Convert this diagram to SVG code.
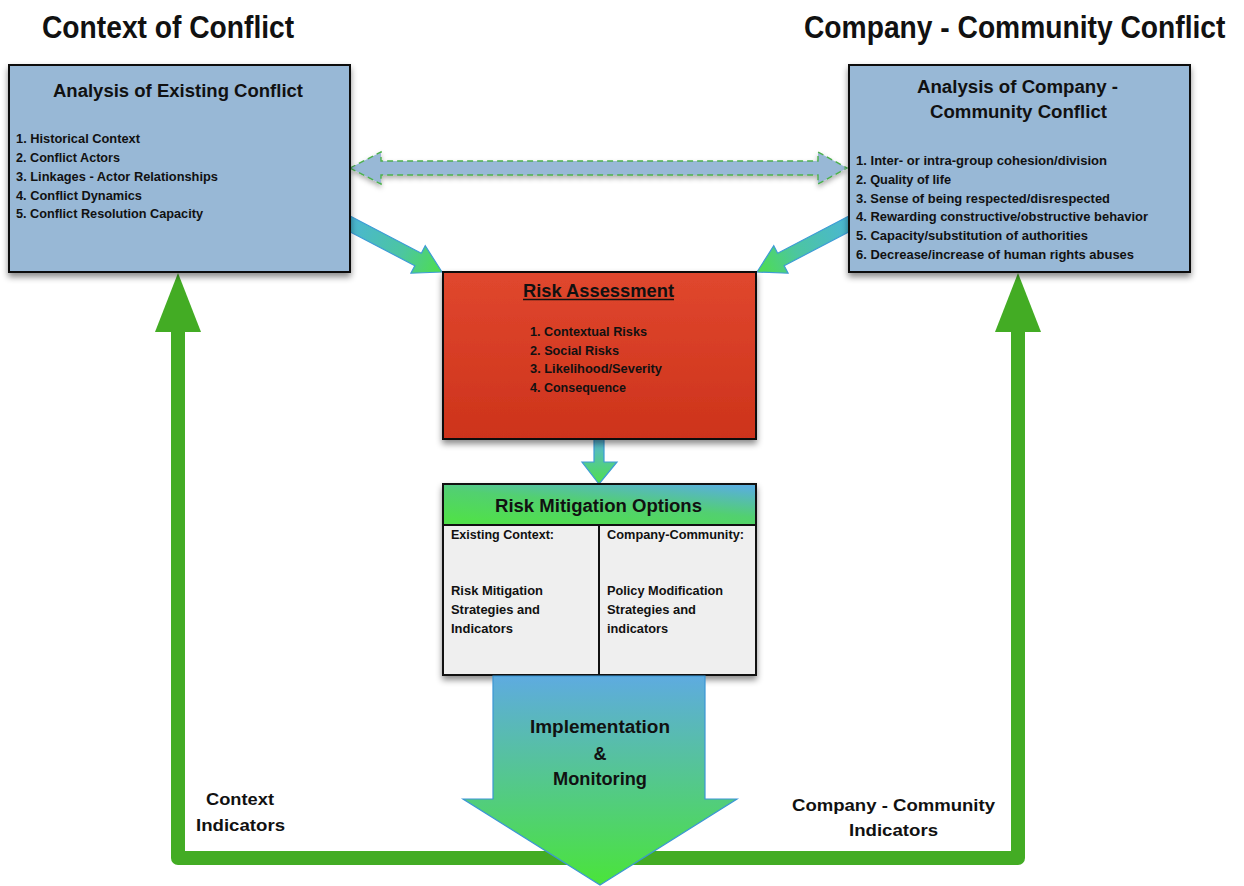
<svg xmlns="http://www.w3.org/2000/svg" width="1244" height="886" viewBox="0 0 1244 886">
  <defs>
    <style>
      text { font-family: "Liberation Sans", Arial, sans-serif; font-weight: bold; fill: #111; }
      .head { font-size: 31px; }
      .title { font-size: 18px; }
      .item { font-size: 13.5px; }
      .label { font-size: 17px; }
      .box { stroke: #111; stroke-width: 2; }
      .blue { fill: #98b8d6; }
    </style>
    <filter id="shadow" x="-10%" y="-10%" width="120%" height="130%">
      <feDropShadow dx="0" dy="4" stdDeviation="3" flood-color="#000" flood-opacity="0.45"/>
    </filter>
    <filter id="softShadow" x="-10%" y="-50%" width="120%" height="250%">
      <feDropShadow dx="0" dy="3" stdDeviation="2.5" flood-color="#000" flood-opacity="0.3"/>
    </filter>
    <linearGradient id="redFill" x1="0" y1="0" x2="0" y2="1">
      <stop offset="0" stop-color="#e0472e"/>
      <stop offset="1" stop-color="#cd331b"/>
    </linearGradient>
    <linearGradient id="mitigationHeader" x1="0.2" y1="1" x2="0.9" y2="0">
      <stop offset="0" stop-color="#50e04a"/>
      <stop offset="0.5" stop-color="#52d070"/>
      <stop offset="1" stop-color="#59afdc"/>
    </linearGradient>
    <linearGradient id="bigArrowFill" x1="0" y1="0" x2="0" y2="1">
      <stop offset="0" stop-color="#5eabe0"/>
      <stop offset="1" stop-color="#4ae43a"/>
    </linearGradient>
    <linearGradient id="diagFill" gradientUnits="userSpaceOnUse" x1="-110" y1="0" x2="0" y2="0">
      <stop offset="0" stop-color="#4ab4d8"/>
      <stop offset="0.6" stop-color="#4cc6a0"/>
      <stop offset="1" stop-color="#4ede4c"/>
    </linearGradient>
    <linearGradient id="smallFill" x1="0" y1="0" x2="0" y2="1">
      <stop offset="0" stop-color="#58b4dc"/>
      <stop offset="1" stop-color="#4ee04a"/>
    </linearGradient>
  </defs>

  <rect width="1244" height="886" fill="#ffffff"/>

  <!-- section headings, horizontally condensed -->
  <g id="headings">
    <text class="head" transform="translate(42,38) scale(0.91,1)">Context of Conflict</text>
    <text class="head" transform="translate(804,38) scale(0.91,1)">Company - Community Conflict</text>
  </g>

  <!-- connectors -->
  <g id="connectors">
    <!-- feedback loop from monitoring back to both analyses -->
    <path d="M178,331 L178,858 L1018,858 L1018,331" fill="none" stroke="#43ac24" stroke-width="14" stroke-linejoin="round"/>
    <polygon points="178,273 155,332 201,332" fill="#43ac24"/>
    <polygon points="1018,273 995,332 1041,332" fill="#43ac24"/>

    <!-- analyses feeding the risk assessment -->
    <g transform="translate(442,272) rotate(27.6)">
      <polygon points="0,0 -27,-15.5 -27,-7 -110,-7 -110,7 -27,7 -27,15.5" fill="url(#diagFill)" stroke="#3d9bd6" stroke-width="1.2"/>
    </g>
    <g transform="translate(757,272) scale(-1,1) rotate(27.6)">
      <polygon points="0,0 -27,-15.5 -27,-7 -110,-7 -110,7 -27,7 -27,15.5" fill="url(#diagFill)" stroke="#3d9bd6" stroke-width="1.2"/>
    </g>

    <!-- two-way link between the analyses -->
    <polygon filter="url(#softShadow)" points="350,168 381,152 381,161 818,161 818,152 847,168 818,184 818,175 381,175 381,184" fill="#98b8d6" stroke="#4cb04c" stroke-width="1.4" stroke-dasharray="6,4"/>

    <!-- assessment to mitigation -->
    <polygon points="594,439 604,439 604,462 617,462 599,484 582,462 594,462" fill="url(#smallFill)" stroke="#3d9bd6" stroke-width="1.2"/>

    <text class="label" x="206" y="805" textLength="68" lengthAdjust="spacingAndGlyphs">Context</text>
    <text class="label" x="196" y="831" textLength="89" lengthAdjust="spacingAndGlyphs">Indicators</text>
    <text class="label" x="792" y="811" textLength="203" lengthAdjust="spacingAndGlyphs">Company - Community</text>
    <text class="label" x="849" y="836" textLength="89" lengthAdjust="spacingAndGlyphs">Indicators</text>
  </g>

  <!-- Analysis of Existing Conflict -->
  <g id="existing-conflict">
    <rect class="box blue" x="9" y="65" width="341" height="207" filter="url(#shadow)"/>
    <text class="title" x="53" y="97" textLength="250" lengthAdjust="spacingAndGlyphs">Analysis of Existing Conflict</text>
    <text class="item" x="16" y="143" textLength="124" lengthAdjust="spacingAndGlyphs">1. Historical Context</text>
    <text class="item" x="16" y="162" textLength="104" lengthAdjust="spacingAndGlyphs">2. Conflict Actors</text>
    <text class="item" x="16" y="181" textLength="202" lengthAdjust="spacingAndGlyphs">3. Linkages - Actor Relationships</text>
    <text class="item" x="16" y="199.5" textLength="126" lengthAdjust="spacingAndGlyphs">4. Conflict Dynamics</text>
    <text class="item" x="16" y="218" textLength="187" lengthAdjust="spacingAndGlyphs">5. Conflict Resolution Capacity</text>
  </g>

  <!-- Analysis of Company - Community Conflict -->
  <g id="company-community-conflict">
    <rect class="box blue" x="849" y="65" width="341" height="207" filter="url(#shadow)"/>
    <text class="title" x="917" y="93" textLength="201" lengthAdjust="spacingAndGlyphs">Analysis of Company -</text>
    <text class="title" x="930" y="118" textLength="177" lengthAdjust="spacingAndGlyphs">Community Conflict</text>
    <text class="item" x="856" y="165" textLength="251" lengthAdjust="spacingAndGlyphs">1. Inter- or intra-group cohesion/division</text>
    <text class="item" x="856" y="184" textLength="95" lengthAdjust="spacingAndGlyphs">2. Quality of life</text>
    <text class="item" x="856" y="202.5" textLength="254" lengthAdjust="spacingAndGlyphs">3. Sense of being respected/disrespected</text>
    <text class="item" x="856" y="221" textLength="292" lengthAdjust="spacingAndGlyphs">4. Rewarding constructive/obstructive behavior</text>
    <text class="item" x="856" y="240" textLength="232" lengthAdjust="spacingAndGlyphs">5. Capacity/substitution of authorities</text>
    <text class="item" x="856" y="258.5" textLength="278" lengthAdjust="spacingAndGlyphs">6. Decrease/increase of human rights abuses</text>
  </g>

  <!-- Risk Assessment -->
  <g id="risk-assessment">
    <rect class="box" x="443" y="272" width="313" height="167" fill="url(#redFill)" filter="url(#shadow)"/>
    <text class="title" x="523" y="297" textLength="151" lengthAdjust="spacingAndGlyphs">Risk Assessment</text>
    <line x1="523" y1="299.5" x2="674" y2="299.5" stroke="#111" stroke-width="1.3"/>
    <text class="item" x="530" y="336" textLength="117" lengthAdjust="spacingAndGlyphs">1. Contextual Risks</text>
    <text class="item" x="530" y="354.5" textLength="89" lengthAdjust="spacingAndGlyphs">2. Social Risks</text>
    <text class="item" x="530" y="373" textLength="132" lengthAdjust="spacingAndGlyphs">3. Likelihood/Severity</text>
    <text class="item" x="530" y="392" textLength="96" lengthAdjust="spacingAndGlyphs">4. Consequence</text>
  </g>

  <!-- Risk Mitigation Options -->
  <g id="risk-mitigation">
    <rect class="box" x="443" y="484" width="313" height="191" fill="#efefef" filter="url(#shadow)"/>
    <rect x="444" y="485" width="311" height="39.5" fill="url(#mitigationHeader)"/>
    <line x1="443" y1="525" x2="756" y2="525" stroke="#111" stroke-width="2"/>
    <line x1="599" y1="525" x2="599" y2="675" stroke="#111" stroke-width="2"/>
    <rect x="443" y="484" width="313" height="191" fill="none" class="box"/>
    <text class="title" x="495" y="512" textLength="207" lengthAdjust="spacingAndGlyphs">Risk Mitigation Options</text>
    <text class="item" x="451" y="539" textLength="103" lengthAdjust="spacingAndGlyphs">Existing Context:</text>
    <text class="item" x="451" y="595" textLength="92" lengthAdjust="spacingAndGlyphs">Risk Mitigation</text>
    <text class="item" x="451" y="614" textLength="89" lengthAdjust="spacingAndGlyphs">Strategies and</text>
    <text class="item" x="451" y="633" textLength="62" lengthAdjust="spacingAndGlyphs">Indicators</text>
    <text class="item" x="607" y="539" textLength="137" lengthAdjust="spacingAndGlyphs">Company-Community:</text>
    <text class="item" x="607" y="595" textLength="116" lengthAdjust="spacingAndGlyphs">Policy Modification</text>
    <text class="item" x="607" y="614" textLength="89" lengthAdjust="spacingAndGlyphs">Strategies and</text>
    <text class="item" x="607" y="633" textLength="61" lengthAdjust="spacingAndGlyphs">indicators</text>
  </g>

  <!-- Implementation & Monitoring -->
  <g id="implementation">
    <polygon points="493,676 705,676 705,799 737,799 600,885 463,799 493,799" fill="url(#bigArrowFill)" stroke="#3b96d4" stroke-width="1.2"/>
    <text class="title" x="530" y="733" textLength="140" lengthAdjust="spacingAndGlyphs">Implementation</text>
    <text class="title" x="600" y="760" text-anchor="middle">&amp;</text>
    <text class="title" x="553" y="785" textLength="94" lengthAdjust="spacingAndGlyphs">Monitoring</text>
  </g>
</svg>
